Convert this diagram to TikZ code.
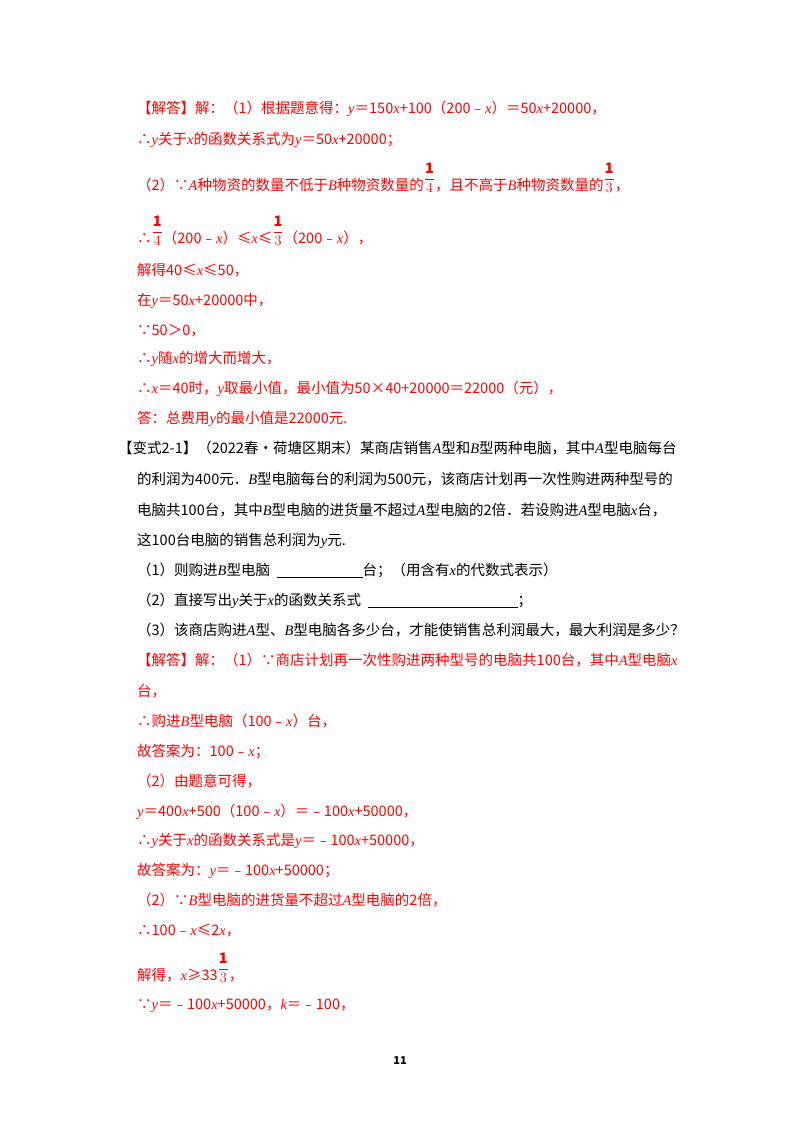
\documentclass[tikz,border=0pt]{standalone}
\usepackage{amsmath}
\usepackage{fontspec}
\setmainfont{Noto Sans CJK SC}
\newfontfamily\lat{Liberation Serif}
\newcommand\vv[1]{{\lat\itshape #1}}
\newcommand\fr[2]{\raisebox{0.5em}{$\dfrac{\mathbf{#1}}{#2}$}}
\definecolor{ans}{RGB}{255,0,0}
\tikzset{ln/.style={anchor=base west,inner sep=0pt,font=\fontsize{14.5}{15}\selectfont}, r/.style={ln,text=ans}}
\begin{document}
\begin{tikzpicture}[x=1pt,y=-1pt]
\useasboundingbox (0,0) rectangle (800,1132);
\node[r] (l1) at (137,113) {【解答】解：（1）根据题意得：\vv{y}＝150\vv{x}+100（200﹣\vv{x}）＝50\vv{x}+20000，};
\node[r] (l2) at (137,144) {∴\vv{y}关于\vv{x}的函数关系式为\vv{y}＝50\vv{x}+20000；};
\node[r] (l3) at (137,190) {（2）∵\vv{A}种物资的数量不低于\vv{B}种物资数量的\fr14，且不高于\vv{B}种物资数量的\fr13，};
\node[r] (l4) at (137,243) {∴\fr14（200﹣\vv{x}）≤\vv{x}≤\fr13（200﹣\vv{x}），};
\node[r] (l5) at (137,275) {解得40≤\vv{x}≤50，};
\node[r] (l6) at (137,305) {在\vv{y}＝50\vv{x}+20000中，};
\node[r] (l7) at (137,335) {∵50＞0，};
\node[r] (l8) at (137,363) {∴\vv{y}随\vv{x}的增大而增大，};
\node[r] (l9) at (137,393) {∴\vv{x}＝40时，\vv{y}取最小值，最小值为50×40+20000＝22000（元），};
\node[r] (l10) at (137,423) {答：总费用\vv{y}的最小值是22000元.};
\node[ln] (b1) at (118,453) {【变式2-1】（2022春•荷塘区期末）某商店销售\vv{A}型和\vv{B}型两种电脑，其中\vv{A}型电脑每台};
\node[ln] (b2) at (137,484) {的利润为400元．\vv{B}型电脑每台的利润为500元，该商店计划再一次性购进两种型号的};
\node[ln] (b3) at (137,515) {电脑共100台，其中\vv{B}型电脑的进货量不超过\vv{A}型电脑的2倍．若设购进\vv{A}型电脑\vv{x}台，};
\node[ln] (b4) at (137,545) {这100台电脑的销售总利润为\vv{y}元.};
\node[ln] (b5) at (137,575) {（1）则购进\vv{B}型电脑\ \ \underline{\hspace{86pt}}台；（用含有\vv{x}的代数式表示）};
\node[ln] (b6) at (137,605) {（2）直接写出\vv{y}关于\vv{x}的函数关系式\ \ \underline{\hspace{150pt}}；};
\node[ln] (b7) at (137,635) {（3）该商店购进\vv{A}型、\vv{B}型电脑各多少台，才能使销售总利润最大，最大利润是多少？};
\node[r] (c1) at (137,665) {【解答】解：（1）∵商店计划再一次性购进两种型号的电脑共100台，其中\vv{A}型电脑\vv{x}};
\node[r] (c2) at (137,696) {台，};
\node[r] (c3) at (137,726) {∴购进\vv{B}型电脑（100﹣\vv{x}）台，};
\node[r] (c4) at (137,756) {故答案为：100﹣\vv{x}；};
\node[r] (c5) at (137,786) {（2）由题意可得，};
\node[r] (c6) at (137,816) {\vv{y}＝400\vv{x}+500（100﹣\vv{x}）＝﹣100\vv{x}+50000，};
\node[r] (c7) at (137,845) {∴\vv{y}关于\vv{x}的函数关系式是\vv{y}＝﹣100\vv{x}+50000，};
\node[r] (c8) at (137,875) {故答案为：\vv{y}＝﹣100\vv{x}+50000；};
\node[r] (c9) at (137,905) {（2）∵\vv{B}型电脑的进货量不超过\vv{A}型电脑的2倍，};
\node[r] (c10) at (137,935) {∴100﹣\vv{x}≤2\vv{x}，};
\node[r] (c11) at (137,980) {解得，\vv{x}≥33\fr13，};
\node[r] (c12) at (137,1009) {∵\vv{y}＝﹣100\vv{x}+50000，\vv{k}＝﹣100，};
\node[anchor=base,inner sep=0pt,font=\fontsize{11}{11}\selectfont\bfseries] (pg) at (400,1064) {11};
\end{tikzpicture}
\end{document}
